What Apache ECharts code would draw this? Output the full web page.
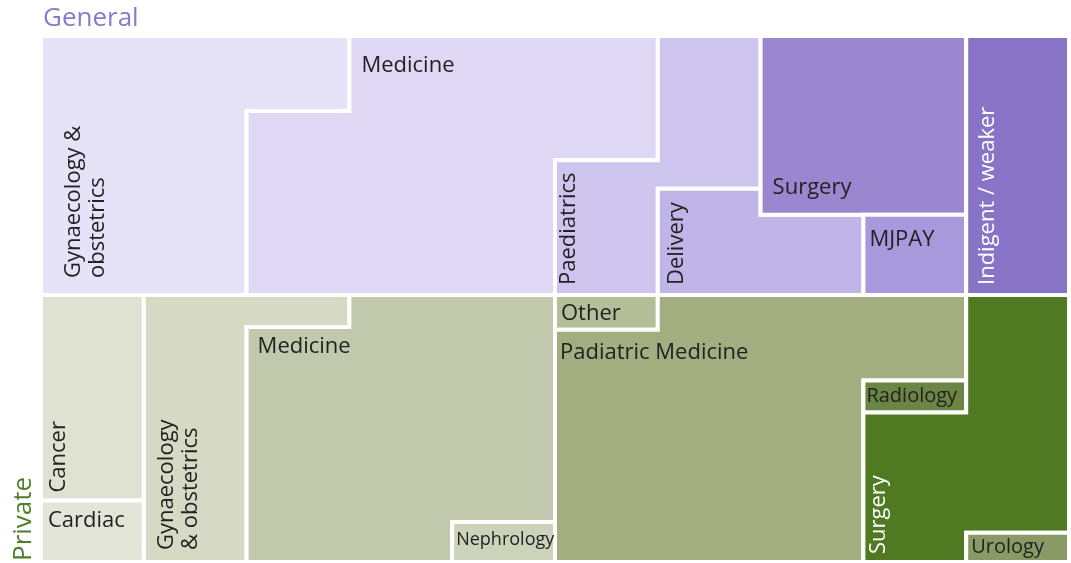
<!DOCTYPE html>
<html>
<head>
<meta charset="utf-8">
<script src="https://cdn.jsdelivr.net/npm/echarts@6/dist/echarts.min.js"></script>
<style>
  html, body { margin: 0; padding: 0; background: #ffffff; }
  #chart { width: 1071px; height: 563px; }
</style>
</head>
<body>
<div id="chart"></div>
<script>
// Share of claims (%) by speciality, General vs Private hospitals.
// Each band is 10 columns wide; one column = 10% of the band.
const generalCategories = ['Gynaecology & obstetrics', 'Medicine', 'Paediatrics', 'Delivery', 'Surgery', 'MJPAY', 'Indigent / weaker'];
const generalShares = [22.9, 31.9, 11.1, 7.2, 13.8, 3.1, 10.0];

const privateCategories = ['Cancer', 'Cardiac', 'Gynaecology & obstetrics', 'Medicine', 'Nephrology', 'Other', 'Padiatric Medicine', 'Radiology', 'Surgery', 'Urology'];
const privateShares = [7.7, 2.3, 11.2, 27.3, 1.5, 1.3, 31.9, 1.2, 14.5, 1.1];

// Fill direction of each column ('down' = from top, 'up' = from bottom)
const generalFlow = ['down', 'down', 'down', 'down', 'down', 'down', 'down', 'up', 'down', 'down'];
const privateFlow = ['down', 'down', 'down', 'down', 'down', 'down', 'down', 'down', 'down', 'down'];

const generalColors = ['#e6e2f7', '#dfd8f5', '#cdc5ee', '#bfb5e9', '#9b86d0', '#a899dc', '#8774c6'];
const privateColors = ['#dfe2d2', '#e3e5d8', '#d6dac5', '#c2c8ab', '#cdd3bb', '#b4be98', '#a2ad80', '#6b8545', '#4f7a21', '#8a9a64'];

// Label placement: which column segment to anchor on, which corner, pixel offsets
const generalLabels = [
  { text: 'Gynaecology &\nobstetrics', seg: 0, corner: 'bl', rotate: true, dx: 45, dy: -17 },
  { seg: 1, corner: 'tl', dx: 12, dy: 30 },
  { seg: 0, corner: 'bl', rotate: true, dx: 14, dy: -10 },
  { seg: 0, corner: 'bl', rotate: true, dx: 19, dy: -10 },
  { seg: 0, corner: 'bl', dx: 12, dy: -27 },
  { seg: 0, corner: 'tl', dx: 6, dy: 25 },
  { seg: 0, corner: 'bl', rotate: true, dx: 22, dy: -10, color: '#ffffff' }
];
const privateLabels = [
  { seg: 0, corner: 'bl', rotate: true, dx: 18, dy: -8 },
  { seg: 0, corner: 'tl', dx: 7, dy: 20 },
  { text: 'Gynaecology\n& obstetrics', seg: 0, corner: 'bl', rotate: true, dx: 35, dy: -12 },
  { seg: 0, corner: 'tl', dx: 11, dy: 20 },
  { seg: 0, corner: 'tl', dx: 4, dy: 18, size: 18 },
  { seg: 0, corner: 'tl', dx: 6, dy: 19 },
  { seg: 0, corner: 'tl', dx: 5, dy: 23 },
  { seg: 0, corner: 'tl', dx: 3, dy: 16, size: 20 },
  { seg: 0, corner: 'bl', rotate: true, dx: 15, dy: -8, color: '#ffffff' },
  { seg: 0, corner: 'tl', dx: 5, dy: 15, size: 20 }
];

const FONT = '"Open Sans", "Noto Sans", sans-serif';
const LABEL_SIZE = 22;

// Pour the shares into the columns in order; returns column segments per category
function pour(shares, flow) {
  let col = 0, filled = 0;
  return shares.map(function (v) {
    const segs = [];
    let rem = v / 10;
    while (rem > 1e-6 && col < flow.length) {
      const take = Math.min(rem, 1 - filled);
      const y0 = flow[col] === 'down' ? filled : 1 - filled - take;
      segs.push({ col: col, y0: y0, y1: y0 + take });
      filled += take;
      rem -= take;
      if (filled >= 1 - 1e-6) { col++; filled = 0; }
    }
    return segs;
  });
}

function makeRender(segsList, colors, labels, names) {
  return function (params, api) {
    const i = params.dataIndex;
    const segs = segsList[i];
    // top edge left to right, then bottom edge right to left
    const points = [];
    segs.forEach(function (s) {
      points.push(api.coord([s.col, s.y0]), api.coord([s.col + 1, s.y0]));
    });
    for (let k = segs.length - 1; k >= 0; k--) {
      const s = segs[k];
      points.push(api.coord([s.col + 1, s.y1]), api.coord([s.col, s.y1]));
    }
    const lab = labels[i];
    const s = segs[lab.seg];
    const corner = lab.corner === 'bl' ? api.coord([s.col, s.y1]) : api.coord([s.col, s.y0]);
    const text = {
      type: 'text',
      x: corner[0] + lab.dx,
      y: corner[1] + lab.dy,
      rotation: lab.rotate ? Math.PI / 2 : 0,
      style: {
        text: lab.text || names[i],
        fill: lab.color || '#222222',
        fontSize: lab.size || LABEL_SIZE,
        fontFamily: FONT,
        lineHeight: 24,
        align: 'left',
        verticalAlign: 'middle'
      },
      z2: 10
    };
    return {
      type: 'group',
      children: [
        { type: 'polygon', shape: { points: points }, style: { fill: colors[i], stroke: '#ffffff', lineWidth: 4 } },
        text
      ]
    };
  };
}

const generalSegs = pour(generalShares, generalFlow);
const privateSegs = pour(privateShares, privateFlow);

const axisCommon = { show: false };
const chart = echarts.init(document.getElementById('chart'), null, { renderer: 'canvas' });
chart.setOption({
  animation: false,
  backgroundColor: '#ffffff',
  title: {
    text: 'General',
    left: 38,
    top: 1,
    textStyle: { color: '#8b79cc', fontSize: 26, fontWeight: 'normal', fontFamily: FONT }
  },
  graphic: [{
    type: 'text',
    x: 24,
    y: 561,
    rotation: Math.PI / 2,
    style: { text: 'Private', fill: '#4f7f2a', fontSize: 26, fontFamily: FONT, align: 'left', verticalAlign: 'middle' }
  }],
  grid: [
    { left: 41, top: 36, width: 1028, height: 259 },
    { left: 41, top: 295, width: 1028, height: 267 }
  ],
  xAxis: [
    Object.assign({ type: 'value', min: 0, max: 10, gridIndex: 0 }, axisCommon),
    Object.assign({ type: 'value', min: 0, max: 10, gridIndex: 1 }, axisCommon)
  ],
  yAxis: [
    Object.assign({ type: 'value', min: 0, max: 1, inverse: true, gridIndex: 0 }, axisCommon),
    Object.assign({ type: 'value', min: 0, max: 1, inverse: true, gridIndex: 1 }, axisCommon)
  ],
  series: [
    {
      type: 'custom',
      name: 'General',
      xAxisIndex: 0,
      yAxisIndex: 0,
      renderItem: makeRender(generalSegs, generalColors, generalLabels, generalCategories),
      data: generalCategories.map(function (n, i) { return { name: n, value: [0, 0, generalShares[i]] }; })
    },
    {
      type: 'custom',
      name: 'Private',
      xAxisIndex: 1,
      yAxisIndex: 1,
      renderItem: makeRender(privateSegs, privateColors, privateLabels, privateCategories),
      data: privateCategories.map(function (n, i) { return { name: n, value: [0, 0, privateShares[i]] }; })
    }
  ]
});
</script>
</body>
</html>
